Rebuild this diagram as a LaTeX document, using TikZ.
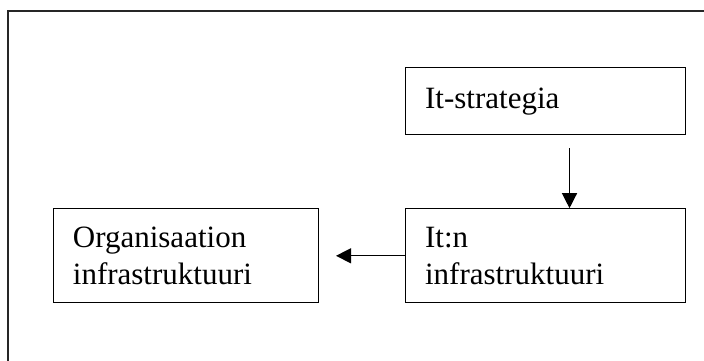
\documentclass[tikz,border=0pt]{standalone}
\usepackage{fontspec}
\setmainfont{Liberation Serif}
\usetikzlibrary{positioning,arrows.meta,calc}

\begin{document}
\begin{tikzpicture}[
  x=1pt, y=1pt,
  font=\fontsize{31}{36.5}\selectfont,
  box/.style={draw=black, line width=1.2pt, align=left,
              inner xsep=19.5pt, inner ysep=0pt, anchor=north west},
  frame/.style={draw=black!85, line width=2pt},
  arr/.style={-{Triangle[length=15pt, width=15pt]}, line width=1.3pt},
]
\useasboundingbox (0,0) rectangle (704,-361);

% ---- outer frame (runs past the right and lower edge) ----
\draw[frame] (704,-11) -- (8,-11) -- (8,-361);

% ---- boxes ----
\node[box, text width=241pt, minimum height=67pt] (strat) at (405,-67)
  {It-strategia};
\node[box, text width=241pt, minimum height=94pt, below=73pt of strat] (itinfra)
  {It:n\\infrastruktuuri};
\node[box, text width=226pt, minimum height=94pt, left=86pt of itinfra] (orginfra)
  {Organisaation\\infrastruktuuri};

% ---- arrows ----
\coordinate (dstart) at ($(strat.south west)!0.585!(strat.south east)+(0,-13pt)$);
\draw[arr] (dstart) -- (dstart |- itinfra.north);
\coordinate (lend) at ($(orginfra.east)+(17pt,0)$);
\draw[arr] (itinfra.west) -- (lend);
\end{tikzpicture}
\end{document}
